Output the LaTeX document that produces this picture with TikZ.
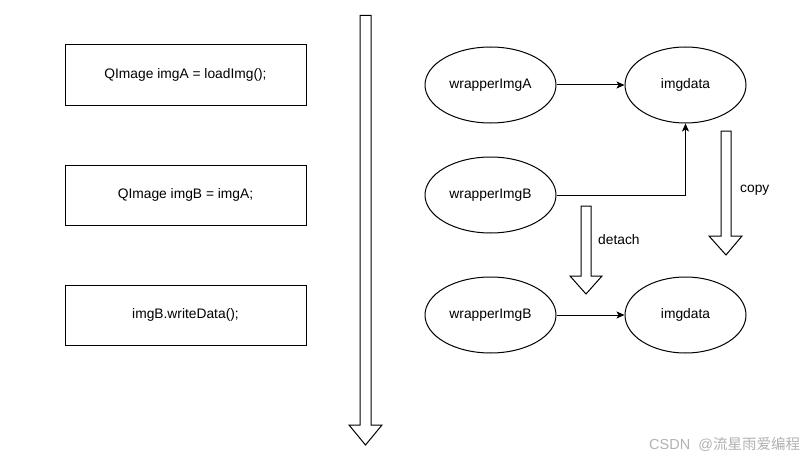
\documentclass[tikz,border=0pt]{standalone}
\usepackage{fontspec}
\setmainfont{Liberation Sans}
\newfontfamily\cjk{Noto Sans CJK SC}
\usetikzlibrary{shapes.geometric,arrows.meta}
\begin{document}
\begin{tikzpicture}[x=1pt,y=-1pt,
  codebox/.style={draw,line width=1pt,minimum width=241pt,minimum height=60pt,inner sep=0pt,font=\fontsize{13.8}{16}\selectfont},
  oval/.style={draw,ellipse,line width=1pt,inner sep=0pt,font=\fontsize{13.8}{16}\selectfont},
  conn/.style={line width=1pt,-{Stealth[length=8pt,width=7pt,inset=2pt]}},
  blockarrow/.style={draw,line width=1pt,fill=white,line join=miter},
  lbl/.style={font=\fontsize{13.8}{16}\selectfont,inner sep=0pt}]
\useasboundingbox (0,0) rectangle (809,460);
\fill[white] (0,0) rectangle (809,460);
% left boxes
\node[codebox] (b1) at (185.5,75) {QImage imgA = loadImg();};
\node[codebox] (b2) at (185.5,195) {QImage imgB = imgA;};
\node[codebox] (b3) at (185.5,315) {imgB.writeData();};
% tall block arrow
\draw[blockarrow] (360,15.5) -- (371,15.5) -- (371,425) -- (382,425) -- (365.5,445) -- (349,425) -- (360,425) -- cycle;
% ellipses
\node[oval,minimum width=131pt,minimum height=76pt] (wa) at (490.5,85) {wrapperImgA};
\node[oval,minimum width=121pt,minimum height=76pt] (d1) at (685.5,85) {imgdata};
\node[oval,minimum width=131pt,minimum height=76pt] (wb) at (490.5,195) {wrapperImgB};
\node[oval,minimum width=131pt,minimum height=76pt] (wb2) at (490.5,315) {wrapperImgB};
\node[oval,minimum width=121pt,minimum height=76pt] (d2) at (685.5,315) {imgdata};
% connectors
\draw[conn] (wa) -- (d1);
\draw[conn] (wb.east) -| (d1.south);
\draw[conn] (wb2) -- (d2);
% detach arrow
\draw[blockarrow] (581,206) -- (591,206) -- (591,276) -- (602,276) -- (586,294) -- (570,276) -- (581,276) -- cycle;
\node[lbl,anchor=west] (tdetach) at (598,240) {detach};
% copy arrow
\draw[blockarrow] (721,131) -- (731,131) -- (731,236) -- (742,236) -- (726,255) -- (709,236) -- (721,236) -- cycle;
\node[lbl,anchor=west] (tcopy) at (740,190) {copy};
% watermark
\node[anchor=west,inner sep=0pt,text=black!30,font=\fontsize{14.5}{16}\selectfont] (wm) at (649,444) {CSDN\ \ @\cjk 流星雨爱编程};
\end{tikzpicture}
\end{document}
